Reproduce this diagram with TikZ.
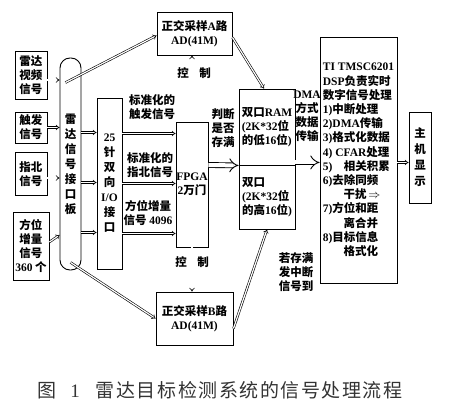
\documentclass[tikz,border=0pt]{standalone}
\usepackage{fontspec}
\setmainfont{Noto Sans CJK SC}
\newfontfamily\enfont{Liberation Serif}
\newcommand{\en}[1]{{\enfont\bfseries #1}}
\usetikzlibrary{arrows.meta}

\begin{document}
\begin{tikzpicture}[x=1pt, y=-1pt, line width=0.9pt,
  box/.style={draw, inner sep=0pt, align=center, font=\bfseries\fontsize{11.5}{14}\selectfont},
  lbl/.style={inner sep=0pt, align=center, font=\bfseries\fontsize{11.5}{14}\selectfont},
  arr/.style={double, double distance=1.2pt, line width=0.6pt, -{Implies}},
  big/.style={double, double distance=4pt, line width=0.9pt, -{Implies}}]
  \useasboundingbox (0,0) rectangle (461,417);

  % input signals
  \node[box, minimum width=32pt, minimum height=48pt] (radar) at (31,75)  {雷达\\视频\\信号};
  \node[box, minimum width=32pt, minimum height=31pt] (trig)  at (31,127.5) {触发\\信号};
  \node[box, minimum width=32pt, minimum height=43pt] (north) at (31,174) {指北\\信号};
  \node[box, minimum width=36pt, minimum height=68pt] (azim)  at (31,246) {方位\\增量\\信号\\\en{360} 个};

  \node[box, rounded corners=10pt, minimum width=21pt, minimum height=212pt,
        font=\bfseries\fontsize{11.5}{15}\selectfont] (board) at (70.5,164) {雷\\达\\信\\号\\接\\口\\板};
  \node[box, minimum width=25pt, minimum height=171pt,
        font=\bfseries\fontsize{11.5}{15}\selectfont] (io) at (109.5,183.5) {\en{25}\\针\\双\\向\\\en{I/O}\\接\\口};
  \node[box, minimum width=32pt, minimum height=125pt] (fpga) at (192,184.5) {\en{FPGA}\\\en{2}万门};

  \node[box, minimum width=75pt, minimum height=43pt] (adA) at (194.5,33.5)  {正交采样\en{A}路\\\en{AD(41M)}};
  \node[box, minimum width=77pt, minimum height=53pt] (adB) at (194.5,318.5) {正交采样\en{B}路\\\en{AD(41M)}};

  \node[box, minimum width=56pt, minimum height=76pt, align=left] (ramlo) at (267,127)
       {双口\en{RAM}\\\en{(2K*32}位\\的低\en{16}位\en{)}};
  \node[box, minimum width=56pt, minimum height=64pt, align=left] (ramhi) at (267,197)
       {双口\\\en{(2K*32}位\\的高\en{16}位\en{)}};

  \node[box, minimum width=77pt, minimum height=246pt, align=left,
        font=\bfseries\fontsize{11.5}{14.2}\selectfont] (dsp) at (358.5,160)
       {\en{TI TMSC6201}\\
        \en{DSP}负责实时\\
        数字信号处理\\
        \en{1)}中断处理\\
        \en{2)DMA}传输\\
        \en{3)}格式化数据\\
        \en{4) CFAR}处理\\
        \en{5)}\quad 相关积累\\
        \en{6)}去除同频\\
        \hspace*{1.8em}干扰\,$\Rightarrow$\\
        \en{7)}方位和距\\
        \hspace*{1.8em}离合并\\
        \en{8)}目标信息\\
        \hspace*{1.8em}格式化};
  \node[box, minimum width=22pt, minimum height=91pt,
        font=\bfseries\fontsize{11.5}{16}\selectfont] (host) at (420,157.5) {主\\机\\显\\示};

  % labels
  \node[lbl] (ltrig)  at (152,107) {标准化的\\触发信号};
  \node[lbl] (lnorth) at (150,165) {标准化的\\指北信号};
  \node[lbl] (lazim)  at (148,213) {方位增量\\信号 \en{4096}};
  \node[lbl] (ctla1) at (183,73)  {控};
  \node[lbl] (ctla2) at (205,73)  {制};
  \node[lbl] (ctlb1) at (181,262) {控};
  \node[lbl] (ctlb2) at (203,262) {制};
  \node[lbl] (lfull) at (223,128) {判断\\是否\\存满};
  \node[lbl] (ldma)  at (307,116) {\en{DMA}\\方式\\数据\\传输};
  \node[lbl] (lint)  at (296,272) {若存满\\发中断\\信号到};

  \node[anchor=west, inner sep=0pt, text=black!80, font=\fontsize{19}{19}\selectfont] (cap) at (37,390)
       {图\hspace{14pt}{\enfont 1}\hspace{16pt}{\addfontfeature{LetterSpace=8}雷达目标检测系统的信号处理流程}};

  % connectors
  \draw[arr] ([yshift=-5pt]radar.east) -- ([yshift=-5pt]radar.east -| board.west);
  \draw[arr] (trig.east) -- (trig.east -| board.west);
  \draw[arr] ([yshift=-4pt]north.east) -- ([yshift=-4pt]north.east -| board.west);
  \draw[arr] ([yshift=4pt]azim.east) -- ([yshift=11pt]azim.east -| board.west);
  \draw[arr] ([xshift=-5pt,yshift=-25pt]board.north) -- ([yshift=-2pt]adA.west);
  \draw[arr] ([yshift=8pt]board.south) -- (adB.west);

  \draw[arr] ([yshift=51pt]io.west -| board.east) -- ([yshift=51pt]io.west);
  \draw[arr] ([yshift=1pt]io.west -| board.east) -- ([yshift=1pt]io.west);
  \draw[arr] ([yshift=-49pt]io.west -| board.east) -- ([yshift=-49pt]io.west);

  \draw[arr] ([yshift=50pt]io.east) -- ([yshift=50pt]io.east -| fpga.west);
  \draw[arr] ([yshift=0pt]io.east) -- ([yshift=0pt]io.east -| fpga.west);
  \draw[arr] ([yshift=-50pt]io.east) -- ([yshift=-50pt]io.east -| fpga.west);

  \draw[arr] (fpga.north) -- (fpga.north |- adA.south);
  \draw[arr] (fpga.south) -- (fpga.south |- adB.north);
  \draw[big] ([yshift=19.5pt]fpga.east) -- (ramlo.south west);

  \draw[arr] ([yshift=-4pt]adA.east) -- ([xshift=-3pt]ramlo.north);
  \draw[arr] ([yshift=-10pt]adB.east) -- (ramhi.south);

  \draw[big] ([yshift=3pt]ramlo.south east) -- ([yshift=3pt]ramlo.south east -| dsp.west);
  \draw[arr] ([yshift=-5pt]host.west -| dsp.east) -- ([yshift=-5pt]host.west);
\end{tikzpicture}
\end{document}
